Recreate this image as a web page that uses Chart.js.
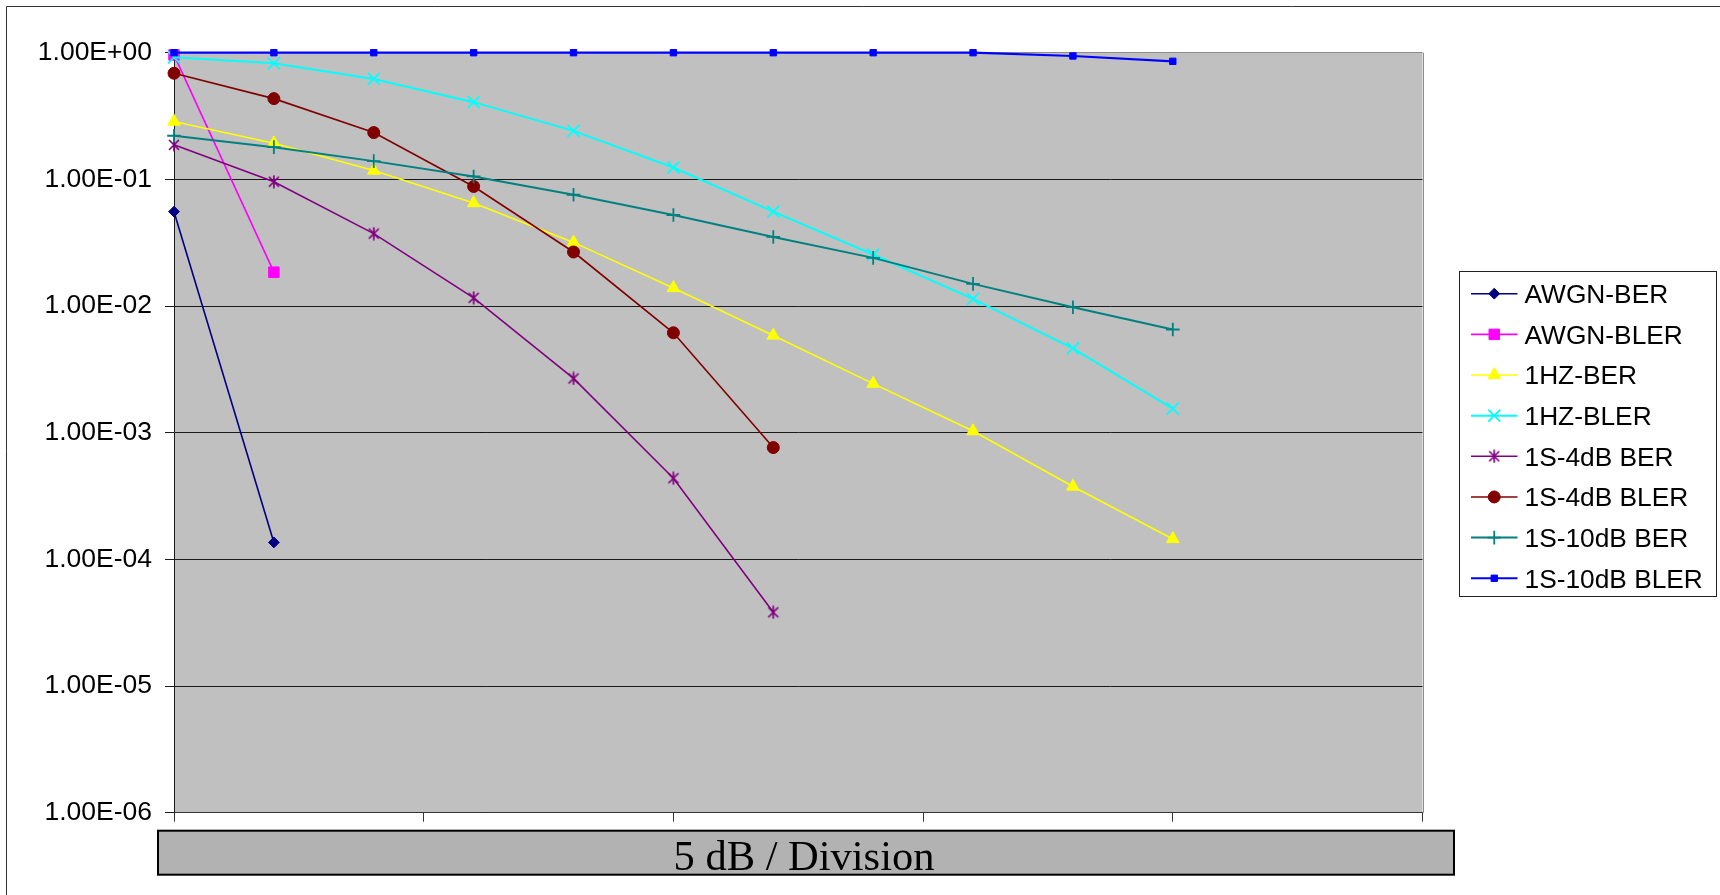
<!DOCTYPE html>
<html>
<head>
<meta charset="utf-8">
<title>BER / BLER vs SNR</title>
<script src="https://cdn.jsdelivr.net/npm/chart.js@4.4.1/dist/chart.umd.min.js"></script>
<style>
  html, body { margin: 0; padding: 0; background: #ffffff; }
  canvas { display: block; }
</style>
</head>
<body>
<canvas id="chart" width="1720" height="895"></canvas>
<script>
// SNR points (dB), 2 dB apart
const snrDb = [0, 2, 4, 6, 8, 10, 12, 14, 16, 18, 20];

// Measured error rates per channel model
const awgnBer   = [0.0556, 0.000136];
const awgnBler  = [0.96, 0.0185];
const hz1Ber    = [0.286, 0.193, 0.1175, 0.065, 0.0318, 0.0139, 0.00586, 0.00244, 0.00103, 0.000376, 0.000145];
const hz1Bler   = [0.92, 0.825, 0.621, 0.407, 0.2415, 0.124, 0.0556, 0.0255, 0.0114, 0.00463, 0.00155];
const s4dbBer   = [0.1874, 0.0958, 0.0373, 0.0116, 0.00268, 0.000437, 0.0000382];
const s4dbBler  = [0.688, 0.434, 0.234, 0.0879, 0.0267, 0.00615, 0.000763];
const s10dbBer  = [0.221, 0.1796, 0.1393, 0.1054, 0.0756, 0.0523, 0.0351, 0.024, 0.01496, 0.00979, 0.00653];
const s10dbBler = [1, 1, 1, 1, 1, 1, 1, 1, 1, 0.942, 0.855];

const seriesNames = ['AWGN-BER', 'AWGN-BLER', '1HZ-BER', '1HZ-BLER', '1S-4dB BER', '1S-4dB BLER', '1S-10dB BER', '1S-10dB BLER'];
const seriesValues = [awgnBer, awgnBler, hz1Ber, hz1Bler, s4dbBer, s4dbBler, s10dbBer, s10dbBler];

// Axis ticks
const yTickValues = [1, 1e-1, 1e-2, 1e-3, 1e-4, 1e-5, 1e-6];
const yTickLabels = ['1.00E+00', '1.00E-01', '1.00E-02', '1.00E-03', '1.00E-04', '1.00E-05', '1.00E-06'];
const xTickValues = [0, 5, 10, 15, 20, 25];
const xAxisCaption = '5 dB / Division';

// Asterisk marker: an X crossed by a vertical bar
function asteriskMarker(color) {
  const c = document.createElement('canvas');
  c.width = 14; c.height = 14;
  const g = c.getContext('2d');
  g.strokeStyle = color;
  g.lineWidth = 1.7;
  g.beginPath();
  g.moveTo(2, 2);   g.lineTo(12, 12);
  g.moveTo(12, 2);  g.lineTo(2, 12);
  g.moveTo(7, 0.5); g.lineTo(7, 13.5);
  g.stroke();
  return c;
}

const seriesStyles = [
  { color: '#000080', pointStyle: 'rectRot',  radius: 5.4, pointBorder: 1,   line: 1.6 },
  { color: '#FF00FF', pointStyle: 'rect',     radius: 7.4, pointBorder: 1,   line: 1.6 },
  { color: '#FFFF00', pointStyle: 'triangle', radius: 7.3, pointBorder: 1,   line: 1.6 },
  { color: '#00FFFF', pointStyle: 'crossRot', radius: 8.5, pointBorder: 1.8, line: 2 },
  { color: '#800080', pointStyle: asteriskMarker('#800080'), radius: 6, pointBorder: 1, line: 1.6 },
  { color: '#800000', pointStyle: 'circle',   radius: 6,   pointBorder: 1,   line: 1.6 },
  { color: '#008080', pointStyle: 'cross',    radius: 6.8, pointBorder: 1.8, line: 2 },
  { color: '#0000FF', pointStyle: 'rect',     radius: 4.5, pointBorder: 1,   line: 2.2 }
];

const datasets = seriesNames.map((name, i) => {
  const st = seriesStyles[i];
  return {
    label: name,
    data: seriesValues[i].map((v, k) => ({ x: snrDb[k], y: v })),
    borderColor: st.color,
    backgroundColor: st.color,
    borderWidth: st.line,
    pointStyle: st.pointStyle,
    pointRadius: st.radius,
    pointBorderWidth: st.pointBorder,
    pointBackgroundColor: st.color,
    pointBorderColor: st.color,
    tension: 0,
    fill: false,
    clip: false,
    order: seriesNames.length - i
  };
});

// Page frame, plot background and right/top plot edge
const framePlugin = {
  id: 'frame',
  beforeDraw(chart) {
    const { ctx, chartArea: a } = chart;
    ctx.save();
    ctx.strokeStyle = '#333333';
    ctx.lineWidth = 1;
    ctx.beginPath();
    ctx.moveTo(6.5, chart.height);
    ctx.lineTo(6.5, 6.5);
    ctx.lineTo(chart.width, 6.5);
    ctx.stroke();
    ctx.fillStyle = '#C0C0C0';
    ctx.fillRect(a.left, a.top, a.right - a.left, a.bottom - a.top);
    ctx.strokeStyle = '#8C8C8C';
    ctx.beginPath();
    ctx.moveTo(Math.round(a.right) + 0.5, a.top);
    ctx.lineTo(Math.round(a.right) + 0.5, a.bottom);
    ctx.stroke();
    ctx.restore();
  }
};

// Boxed x-axis caption below the plot
const captionPlugin = {
  id: 'caption',
  afterDraw(chart) {
    const { ctx, chartArea: a } = chart;
    const left = a.left - 16, right = a.right + 31.5;
    const top = a.bottom + 18, bottom = a.bottom + 62;
    ctx.save();
    ctx.fillStyle = '#B2B2B2';
    ctx.fillRect(left, top, right - left, bottom - top);
    ctx.strokeStyle = '#000000';
    ctx.lineWidth = 2;
    ctx.strokeRect(left, top, right - left, bottom - top);
    ctx.fillStyle = '#000000';
    ctx.font = '42.5px "Liberation Serif", "Times New Roman", serif';
    ctx.textAlign = 'center';
    ctx.textBaseline = 'alphabetic';
    ctx.fillText(xAxisCaption, (left + right) / 2 - 2, bottom - 4.5);
    ctx.restore();
  }
};

// Framed legend at the right: line sample, marker and series name
const legendPlugin = {
  id: 'sideLegend',
  afterDraw(chart) {
    const ctx = chart.ctx;
    const a = chart.chartArea;
    const left = a.right + 37, right = 1716.5, top = 271.5, bottom = 596.5;
    const rowH = 40.65, firstRow = top + 22.2;
    ctx.save();
    ctx.fillStyle = '#ffffff';
    ctx.fillRect(left, top, right - left, bottom - top);
    ctx.strokeStyle = '#222222';
    ctx.lineWidth = 1;
    ctx.strokeRect(left, top, right - left, bottom - top);
    chart.data.datasets.forEach((ds, i) => {
      const y = firstRow + i * rowH;
      const x0 = left + 11.5, x1 = left + 58, xm = (x0 + x1) / 2;
      ctx.strokeStyle = ds.borderColor;
      ctx.lineWidth = ds.borderWidth;
      ctx.beginPath();
      ctx.moveTo(x0, y);
      ctx.lineTo(x1, y);
      ctx.stroke();
      ctx.fillStyle = ds.pointBackgroundColor;
      ctx.strokeStyle = ds.pointBorderColor;
      ctx.lineWidth = ds.pointBorderWidth;
      if (Chart.helpers && Chart.helpers.drawPoint) {
        Chart.helpers.drawPoint(ctx, {
          pointStyle: ds.pointStyle,
          radius: ds.pointRadius,
          borderWidth: ds.pointBorderWidth,
          rotation: 0
        }, xm, y);
      }
      ctx.fillStyle = '#000000';
      ctx.font = '26.3px "Liberation Sans", Arial, sans-serif';
      ctx.textAlign = 'left';
      ctx.textBaseline = 'alphabetic';
      ctx.fillText(ds.label, x1 + 7, y + 9.3);
    });
    ctx.restore();
  }
};

new Chart(document.getElementById('chart'), {
  type: 'line',
  data: { datasets },
  plugins: [framePlugin, captionPlugin, legendPlugin],
  options: {
    responsive: false,
    animation: false,
    events: [],
    devicePixelRatio: 1,
    layout: { padding: { left: 0, top: 52.7, right: 297.5, bottom: 73.3 } },
    plugins: {
      legend: { display: false },
      tooltip: { enabled: false },
      title: { display: false }
    },
    scales: {
      x: {
        type: 'linear',
        min: 0,
        max: 25,
        afterBuildTicks: (scale) => { scale.ticks = xTickValues.map(v => ({ value: v })); },
        ticks: { display: false },
        grid: {
          drawOnChartArea: false,
          drawTicks: true,
          tickLength: 9,
          tickColor: '#333333',
          color: '#333333'
        },
        border: { display: true, color: '#333333', width: 1 }
      },
      y: {
        type: 'logarithmic',
        min: 1e-6,
        max: 1,
        afterBuildTicks: (scale) => { scale.ticks = yTickValues.map(v => ({ value: v })); },
        afterFit: (scale) => { scale.width = 174; },
        ticks: {
          padding: 13,
          color: '#000000',
          font: { family: '"Liberation Sans", Arial, sans-serif', size: 26.5 },
          callback: (value) => {
            const idx = yTickValues.findIndex(v => Math.abs(Math.log10(v) - Math.log10(value)) < 1e-6);
            return idx >= 0 ? yTickLabels[idx] : '';
          }
        },
        grid: {
          drawTicks: true,
          tickLength: 9,
          tickColor: '#1a1a1a',
          lineWidth: 1,
          color: (c) => (c.tick && c.tick.value === 1 ? '#8C8C8C' : '#1a1a1a')
        },
        border: { display: true, color: '#1a1a1a', width: 1 }
      }
    }
  }
});
</script>
</body>
</html>
